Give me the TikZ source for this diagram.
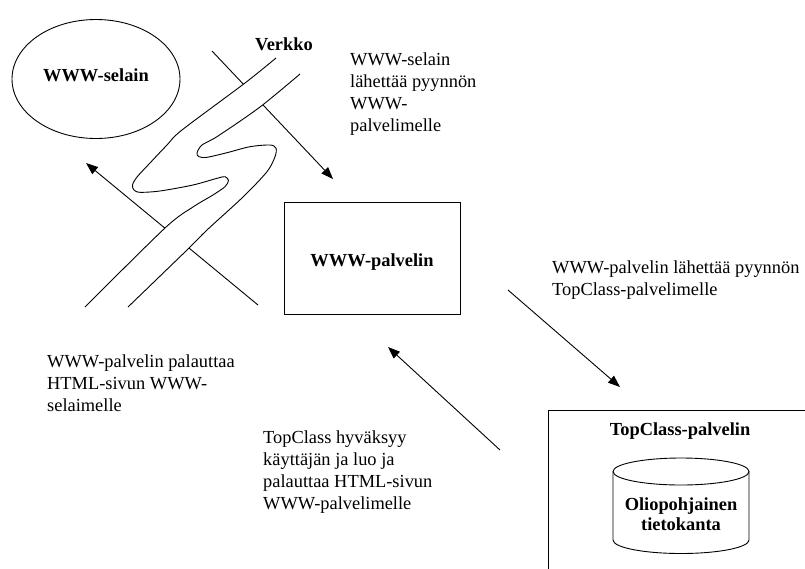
\documentclass[tikz,border=0pt]{standalone}
\usepackage{fontspec}
\setmainfont{Liberation Serif}
\usetikzlibrary{arrows.meta,shapes.geometric}

% outline points of the two edges of the network band
\def\netedgeA{(276,58) (245,83) (182,130) (167,145) (150,163) (137,177) (132.5,185) (134,190) (140,192.3) (160,191) (193,185) (217,178.3) (225,176.7) (228.5,180.5) (225,186.7) (213,195) (193,207) (165,228) (85,307)}
\def\netedgeB{(300,74) (260,107) (218,136) (202,145) (197,153) (199,156.7) (207,157.3) (227,152.7) (250,146.7) (270,145) (276,148.3) (275,156.7) (267,171.7) (243,197) (207,230) (187,250) (128,307)}
\def\netedgeBrev{(128,307) (187,250) (207,230) (243,197) (267,171.7) (275,156.7) (276,148.3) (270,145) (250,146.7) (227,152.7) (207,157.3) (199,156.7) (197,153) (202,145) (218,136) (260,107) (300,74)}

\begin{document}
\begin{tikzpicture}[x=1pt,y=-1pt,
  thin line/.style={line width=0.9pt},
  txt/.style={font=\fontsize{18.4}{22}\selectfont, align=left, inner sep=0pt, anchor=north west},
  lbl/.style={font=\fontsize{18.4}{20}\selectfont\bfseries, inner sep=0pt},
  conn/.style={thin line, -{Triangle[length=12pt,width=9pt]}},
  box/.style={draw, thin line, inner sep=0pt}]
\useasboundingbox (0,0) rectangle (805,568);
\clip (0,0) rectangle (805,568);

% browser
\node[box, ellipse, minimum width=168pt, minimum height=119pt] (browser) at (96,79) {};
\node[lbl, anchor=base] (browsertxt) at (96,81.7) {WWW-selain};

% web server
\node[box, minimum width=176pt, minimum height=112pt] (web) at (372,258) {};
\node[lbl, anchor=base] (webtxt) at (372,266.5) {WWW-palvelin};

% TopClass server (continues past the right and bottom edges)
\node[box, anchor=north west, minimum width=300pt, minimum height=200pt] (tc) at (548,410) {};
\node[lbl, anchor=base] (tctxt) at (680,435) {TopClass-palvelin};

% database cylinder
\draw[thin line] (613,471.5) -- (613,540) arc[start angle=180, end angle=0, x radius=68, y radius=13.5] -- (749,471.5);
\draw[thin line] (681,471.5) ellipse [x radius=68, y radius=13.5];
\node[lbl, align=center, anchor=north] (db) at (681,497.5) {Oliopohjainen\\tietokanta};

% arrow end points
\coordinate (a1s) at (212,51);  \coordinate (a1e) at (333,179);
\coordinate (a2s) at (258,305); \coordinate (a2e) at (86,163);
\coordinate (a3s) at (508,290); \coordinate (a3e) at (620,387);
\coordinate (a4s) at (500,450); \coordinate (a4e) at (388,347);

\draw[conn] (a1s) -- (a1e);
\draw[conn] (a2s) -- (a2e);
\draw[conn] (a3s) -- (a3e);
\draw[conn] (a4s) -- (a4e);

% network band, drawn over the arrows that cross it
\fill[white] plot[smooth, tension=0.5] coordinates {\netedgeA} -- plot[smooth, tension=0.5] coordinates {\netedgeBrev} -- cycle;
\draw[thin line] plot[smooth, tension=0.5] coordinates {\netedgeA};
\draw[thin line] plot[smooth, tension=0.5] coordinates {\netedgeB};
\node[lbl, anchor=base] (net) at (284,50) {Verkko};

% messages
\node[txt] (m1) at (350,52.3) {WWW-selain\\lähettää pyynnön\\WWW-\\palvelimelle};
\node[txt] (m2) at (552,260.6) {WWW-palvelin lähettää pyynnön\\TopClass-palvelimelle};
\node[txt] (m3) at (47,354.5) {WWW-palvelin palauttaa\\HTML-sivun WWW-\\selaimelle};
\node[txt] (m4) at (263,430.6) {TopClass hyväksyy\\käyttäjän ja luo ja\\palauttaa HTML-sivun\\WWW-palvelimelle};
\end{tikzpicture}
\end{document}
